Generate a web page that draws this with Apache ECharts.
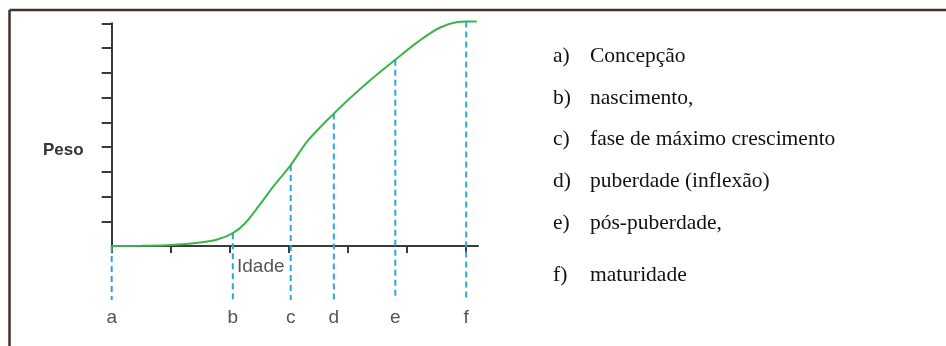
<!DOCTYPE html>
<html>
<head>
<meta charset="utf-8">
<title>Curva de crescimento</title>
<script src="https://cdn.jsdelivr.net/npm/echarts@6/dist/echarts.min.js"></script>
<style>
  html, body { margin: 0; padding: 0; background: #ffffff; }
  #chart { width: 946px; height: 346px; }
</style>
</head>
<body>
<div id="chart"></div>
<script>
// Growth curve: weight (Peso) against age (Idade)
const curveAge    = [0, 0.5, 1, 1.5, 1.8, 2.05, 2.25, 2.5, 2.75, 3.03, 3.3, 3.55, 3.76, 4.0, 4.4, 4.8, 5.2, 5.55, 5.85, 6.0, 6.18];
const curveWeight = [0, 0.01, 0.04, 0.14, 0.27, 0.52, 0.9, 1.65, 2.45, 3.27, 4.2, 4.85, 5.35, 5.9, 6.75, 7.53, 8.28, 8.82, 9.05, 9.07, 9.07];

// Life stages marked on the age axis
const stageLetters = ['a', 'b', 'c', 'd', 'e', 'f'];
const stageAge     = [0, 2.05, 3.03, 3.76, 4.8, 6.0];
const stageWeight  = [0, 0.52, 3.27, 5.35, 7.53, 9.07];
const stageNames   = ['Concepção', 'nascimento,', 'fase de máximo crescimento', 'puberdade (inflexão)', 'pós-puberdade,', 'maturidade'];

// Tick positions on both axes
const ageTicks    = [0, 1, 2, 3, 4, 5, 6];
const weightTicks = [0, 1, 2, 3, 4, 5, 6, 7, 8, 9];

const axisLabelText = { y: 'Peso', x: 'Idade' };

const chart = echarts.init(document.getElementById('chart'), null, { renderer: 'canvas' });

// Drop lines run from the curve down below the age axis
const dropBottom = -2.18;
const dropSeries = stageLetters.map((letter, i) => ({
  type: 'line',
  name: letter,
  data: [[stageAge[i], stageWeight[i]], [stageAge[i], dropBottom]],
  clip: false,
  silent: true,
  symbol: 'none',
  z: 1,
  lineStyle: { color: '#2aa6e0', width: 2, type: [6, 4] }
}));

// Stage legend on the right side
const listTop = [56, 98, 139, 181, 223, 275];
const listFont = '21.5px "Liberation Serif", "Times New Roman", serif';
const listGraphics = [];
stageLetters.forEach((letter, i) => {
  listGraphics.push({
    type: 'text',
    left: 553, top: listTop[i] - 11,
    style: { text: letter + ')', font: listFont, fill: '#111111' }
  });
  listGraphics.push({
    type: 'text',
    left: 590, top: listTop[i] - 11,
    style: { text: stageNames[i], font: listFont, fill: '#111111' }
  });
});

const option = {
  animation: false,
  backgroundColor: '#ffffff',
  grid: { left: 111.7, top: 23.3, right: 468, bottom: 100, containLabel: false },
  xAxis: {
    type: 'value',
    min: 0, max: 6.2,
    interval: 1,
    splitLine: { show: false },
    axisLine: { show: true, onZero: false, lineStyle: { color: '#3a3a3a', width: 2 } },
    axisTick: { show: true, inside: false, length: 7, customValues: ageTicks, lineStyle: { color: '#3a3a3a', width: 2 } },
    axisLabel: {
      show: true,
      customValues: stageAge,
      margin: 62,
      formatter: (value) => {
        const idx = stageAge.indexOf(value);
        return idx >= 0 ? stageLetters[idx] : '';
      },
      color: '#555555',
      fontFamily: '"Liberation Sans", Arial, sans-serif',
      fontSize: 19
    }
  },
  yAxis: {
    type: 'value',
    min: 0, max: 9,
    interval: 1,
    splitLine: { show: false },
    axisLine: { show: true, lineStyle: { color: '#3a3a3a', width: 2 } },
    axisTick: { show: true, inside: false, length: 10, customValues: weightTicks.slice(1), lineStyle: { color: '#3a3a3a', width: 2 } },
    axisLabel: { show: false }
  },
  graphic: [
    // outer frame (top and left edges)
    { type: 'line', shape: { x1: 9.5, y1: 10, x2: 946, y2: 10 }, style: { stroke: '#4a2c27', lineWidth: 2.5 } },
    { type: 'line', shape: { x1: 9.5, y1: 10, x2: 9.5, y2: 346 }, style: { stroke: '#4a2c27', lineWidth: 2.5 } },
    {
      type: 'text', left: 43, top: 142,
      style: { text: axisLabelText.y, font: 'bold 17px "Liberation Sans", Arial, sans-serif', fill: '#333333' }
    },
    {
      type: 'text', left: 237, top: 257,
      style: { text: axisLabelText.x, font: '19px "Liberation Sans", Arial, sans-serif', fill: '#555555' }
    }
  ].concat(listGraphics),
  series: [
    {
      type: 'line',
      name: 'Peso',
      data: curveAge.map((a, i) => [a, curveWeight[i]]),
      smooth: 0.35,
      clip: false,
      symbol: 'none',
      z: 3,
      lineStyle: { color: '#3cb44e', width: 2 }
    }
  ].concat(dropSeries)
};

chart.setOption(option);
</script>
</body>
</html>
